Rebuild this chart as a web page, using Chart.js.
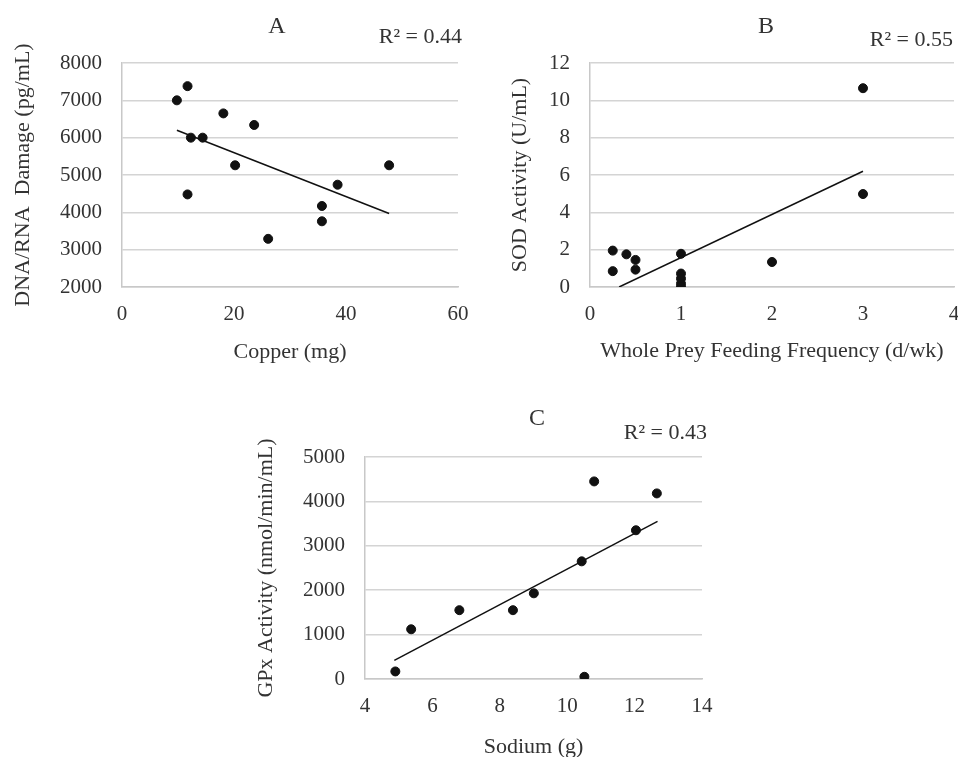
<!DOCTYPE html>
<html>
<head>
<meta charset="utf-8">
<script src="https://cdn.jsdelivr.net/npm/chart.js@4"></script>
<style>
  html, body { margin: 0; padding: 0; background: #fff; overflow: hidden; }
  body { width: 958px; height: 757px; position: relative; }
  .box { position: absolute; }
  #boxA { left: 0; top: 0; width: 479px; height: 370px; }
  #boxB { left: 480px; top: 0; width: 500px; height: 370px; }
  #boxC { left: 240px; top: 370px; width: 500px; height: 390px; }
</style>
</head>
<body>
<div class="box" id="boxA"><canvas id="chartA"></canvas></div>
<div class="box" id="boxB"><canvas id="chartB"></canvas></div>
<div class="box" id="boxC"><canvas id="chartC"></canvas></div>
<script>
// A - copper vs DNA/RNA damage
const copperMg = [9.8, 11.7, 12.3, 14.4, 11.7, 18.1, 23.6, 20.2, 26.1, 35.7, 35.7, 38.5, 47.7];
const dnaDamage = [7000, 7380, 6000, 6000, 4480, 6650, 6340, 5260, 3290, 4170, 3760, 4740, 5260];
const copperTrendX = [9.8, 47.7];
const copperTrendY = [6200, 3970];

// B - whole prey feeding vs SOD
const preyFreq = [0.25, 0.25, 0.4, 0.5, 0.5, 1, 1, 1, 1, 1, 2, 3, 3];
const sodActivity = [1.95, 0.85, 1.75, 1.45, 0.93, 1.78, 0.72, 0.45, 0.18, 0, 1.34, 10.65, 4.98];
const preyTrendX = [0.32, 3.0];
const preyTrendY = [0, 6.2];

// C - sodium vs GPx
const sodiumG = [4.9, 5.37, 6.8, 8.39, 9.01, 10.43, 10.51, 10.8, 12.04, 12.66];
const gpxActivity = [170, 1120, 1550, 1550, 1930, 2650, 50, 4450, 3350, 4180];
const sodiumTrendX = [4.87, 12.68];
const sodiumTrendY = [420, 3550];

const serif = "'Liberation Serif', 'Times New Roman', serif";
const textCol = '#333333';

function pts(xs, ys){
  return xs.map((x, i) => ({x: x, y: ys[i]}));
}

// draws the panel letter and R² label
const panelText = {
  id: 'panelText',
  afterDraw(chart, args, opts){
    const ctx = chart.ctx;
    ctx.save();
    ctx.fillStyle = textCol;
    ctx.textBaseline = 'middle';
    ctx.font = '24px ' + serif;
    ctx.textAlign = 'center';
    ctx.fillText(opts.letter, opts.letterX, opts.letterY);
    ctx.font = '22px ' + serif;
    ctx.textAlign = 'right';
    ctx.fillText(opts.r2, opts.r2X, opts.r2Y);
    ctx.restore();
  }
};

function makeChart(id, xs, ys, tx, ty, s){
  new Chart(document.getElementById(id), {
    type: 'scatter',
    data: {
      datasets: [{
        data: pts(xs, ys),
        backgroundColor: '#111',
        borderColor: '#111',
        pointRadius: 4.5,
        pointHoverRadius: 4.5
      }, {
        type: 'line',
        data: pts(tx, ty),
        borderColor: '#111',
        borderWidth: 1.5,
        pointRadius: 0,
        fill: false
      }]
    },
    options: {
      responsive: true,
      maintainAspectRatio: false,
      animation: false,
      layout: { padding: { top: s.top, right: s.right, bottom: 0, left: 0 } },
      plugins: {
        legend: { display: false },
        tooltip: { enabled: false },
        panelText: s.text
      },
      scales: {
        x: {
          type: 'linear',
          min: s.xMin, max: s.xMax,
          afterFit: (sc) => { sc.height = s.xH; },
          grid: { display: false },
          border: { display: true, color: '#c8c8c8', width: 1.5 },
          ticks: { stepSize: s.xStep, color: textCol, padding: 7, font: { family: serif, size: 21 },
                   callback: (v) => String(v) },
          title: { display: true, text: s.xTitle, color: textCol, padding: { top: 0, bottom: s.xTitlePad }, font: { family: serif, size: 22 } }
        },
        y: {
          min: s.yMin, max: s.yMax,
          afterFit: (sc) => { sc.width = s.yW; },
          grid: { color: '#d4d4d4', lineWidth: 1.5, drawTicks: false },
          border: { display: true, color: '#c8c8c8', width: 1.5 },
          ticks: { stepSize: s.yStep, color: textCol, padding: 20, font: { family: serif, size: 21 },
                   callback: (v) => String(v) },
          title: { display: true, text: s.yTitle, color: textCol, padding: { top: s.yTitlePad, bottom: 0 }, font: { family: serif, size: 22 } }
        }
      }
    },
    plugins: [panelText]
  });
}

makeChart('chartA', copperMg, dnaDamage, copperTrendX, copperTrendY, {
  top: 63, right: 21, xH: 83, yW: 122,
  xMin: 0, xMax: 60, xStep: 20, yMin: 2000, yMax: 8000, yStep: 1000,
  xTitle: 'Copper (mg)', yTitle: 'DNA/RNA  Damage (pg/mL)', xTitlePad: 5, yTitlePad: 10,
  text: { letter: 'A', letterX: 277, letterY: 27, r2: 'R² = 0.44', r2X: 462, r2Y: 37 }
});

makeChart('chartB', preyFreq, sodActivity, preyTrendX, preyTrendY, {
  top: 63, right: 26, xH: 83, yW: 110,
  xMin: 0, xMax: 4, xStep: 1, yMin: 0, yMax: 12, yStep: 2,
  xTitle: 'Whole Prey Feeding Frequency (d/wk)', yTitle: 'SOD Activity (U/mL)', xTitlePad: 6, yTitlePad: 27,
  text: { letter: 'B', letterX: 286, letterY: 27, r2: 'R² = 0.55', r2X: 473, r2Y: 40 }
});

makeChart('chartC', sodiumG, gpxActivity, sodiumTrendX, sodiumTrendY, {
  top: 87, right: 38, xH: 81, yW: 125,
  xMin: 4, xMax: 14, xStep: 2, yMin: 0, yMax: 5000, yStep: 1000,
  xTitle: 'Sodium (g)', yTitle: 'GPx Activity (nmol/min/mL)', xTitlePad: 0, yTitlePad: 13,
  text: { letter: 'C', letterX: 297, letterY: 49, r2: 'R² = 0.43', r2X: 467, r2Y: 63 }
});
</script>
</body>
</html>
